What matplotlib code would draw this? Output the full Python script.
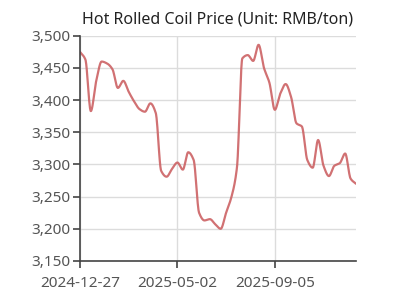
import numpy as np
import pandas as pd
import matplotlib.pyplot as plt
import matplotlib.dates as mdates
from matplotlib.ticker import FuncFormatter

plt.rcParams['font.family'] = ['Noto Sans', 'DejaVu Sans']

# weekly hot rolled coil price, RMB/ton
start = '2024-12-27'
prices = [3475, 3463, 3383, 3430, 3460, 3457, 3448, 3419, 3430, 3413,
          3398, 3386, 3382, 3395, 3380, 3290, 3281, 3293, 3303, 3292,
          3319, 3307, 3225, 3213, 3215, 3207, 3200, 3225, 3250, 3295,
          3465, 3470, 3461, 3486, 3450, 3427, 3385, 3410, 3425, 3405,
          3364, 3359, 3307, 3295, 3338, 3298, 3282, 3298, 3302, 3317,
          3278, 3270]
dates = pd.date_range(start, periods=len(prices), freq='7D')
tick_dates = ['2024-12-27', '2025-05-02', '2025-09-05']
y_ticks = [3150, 3200, 3250, 3300, 3350, 3400, 3450, 3500]


def pchip(x, y, n=20):
    # monotone cubic smoothing for drawing the line
    x = np.asarray(x, float)
    y = np.asarray(y, float)
    h = np.diff(x)
    d = np.diff(y) / h
    m = np.zeros_like(y)
    for i in range(1, len(y) - 1):
        if d[i - 1] * d[i] > 0:
            w1 = 2 * h[i] + h[i - 1]
            w2 = h[i] + 2 * h[i - 1]
            m[i] = (w1 + w2) / (w1 / d[i - 1] + w2 / d[i])
    m[0], m[-1] = d[0], d[-1]
    xs, ys = [], []
    for i in range(len(h)):
        t = np.linspace(0, 1, n, endpoint=False)
        h00 = 2 * t**3 - 3 * t**2 + 1
        h10 = t**3 - 2 * t**2 + t
        h01 = -2 * t**3 + 3 * t**2
        h11 = t**3 - t**2
        xs.append(x[i] + t * h[i])
        ys.append(h00 * y[i] + h10 * h[i] * m[i] + h01 * y[i + 1] + h11 * h[i] * m[i + 1])
    xs.append([x[-1]])
    ys.append([y[-1]])
    return np.concatenate(xs), np.concatenate(ys)


xnum = mdates.date2num(dates)
sx, sy = pchip(xnum, prices)

fig = plt.figure(figsize=(4.0, 3.01), dpi=100)
ax = fig.add_axes([0.2, 0.133, 0.69, 0.748])
ax.plot(sx, sy, color='#cc6264', lw=1.6, alpha=0.9, solid_capstyle='round')

ax.set_xlim(xnum[0], xnum[-1])
ax.set_ylim(3150, 3500)
ax.set_yticks(y_ticks)
ax.yaxis.set_major_formatter(FuncFormatter(lambda v, p: f'{int(v):,}'))
ax.set_xticks(mdates.date2num(pd.to_datetime(tick_dates)))
ax.set_xticklabels(tick_dates)

ax.grid(True, color='#dcdcdc', lw=1)
ax.set_axisbelow(True)
for s in ['top', 'right']:
    ax.spines[s].set_visible(False)
for s in ['left', 'bottom']:
    ax.spines[s].set_color('#444444')
    ax.spines[s].set_linewidth(1.2)
ax.tick_params(colors='#444444', labelcolor='#555555', labelsize=11, length=5, width=1.2)
ax.tick_params(axis='y', pad=2)
ax.tick_params(axis='x', pad=6)

ax.set_title('Hot Rolled Coil Price (Unit: RMB/ton)', fontsize=11.5, color='#222222', pad=9)

fig.savefig('out.png', dpi=100)
